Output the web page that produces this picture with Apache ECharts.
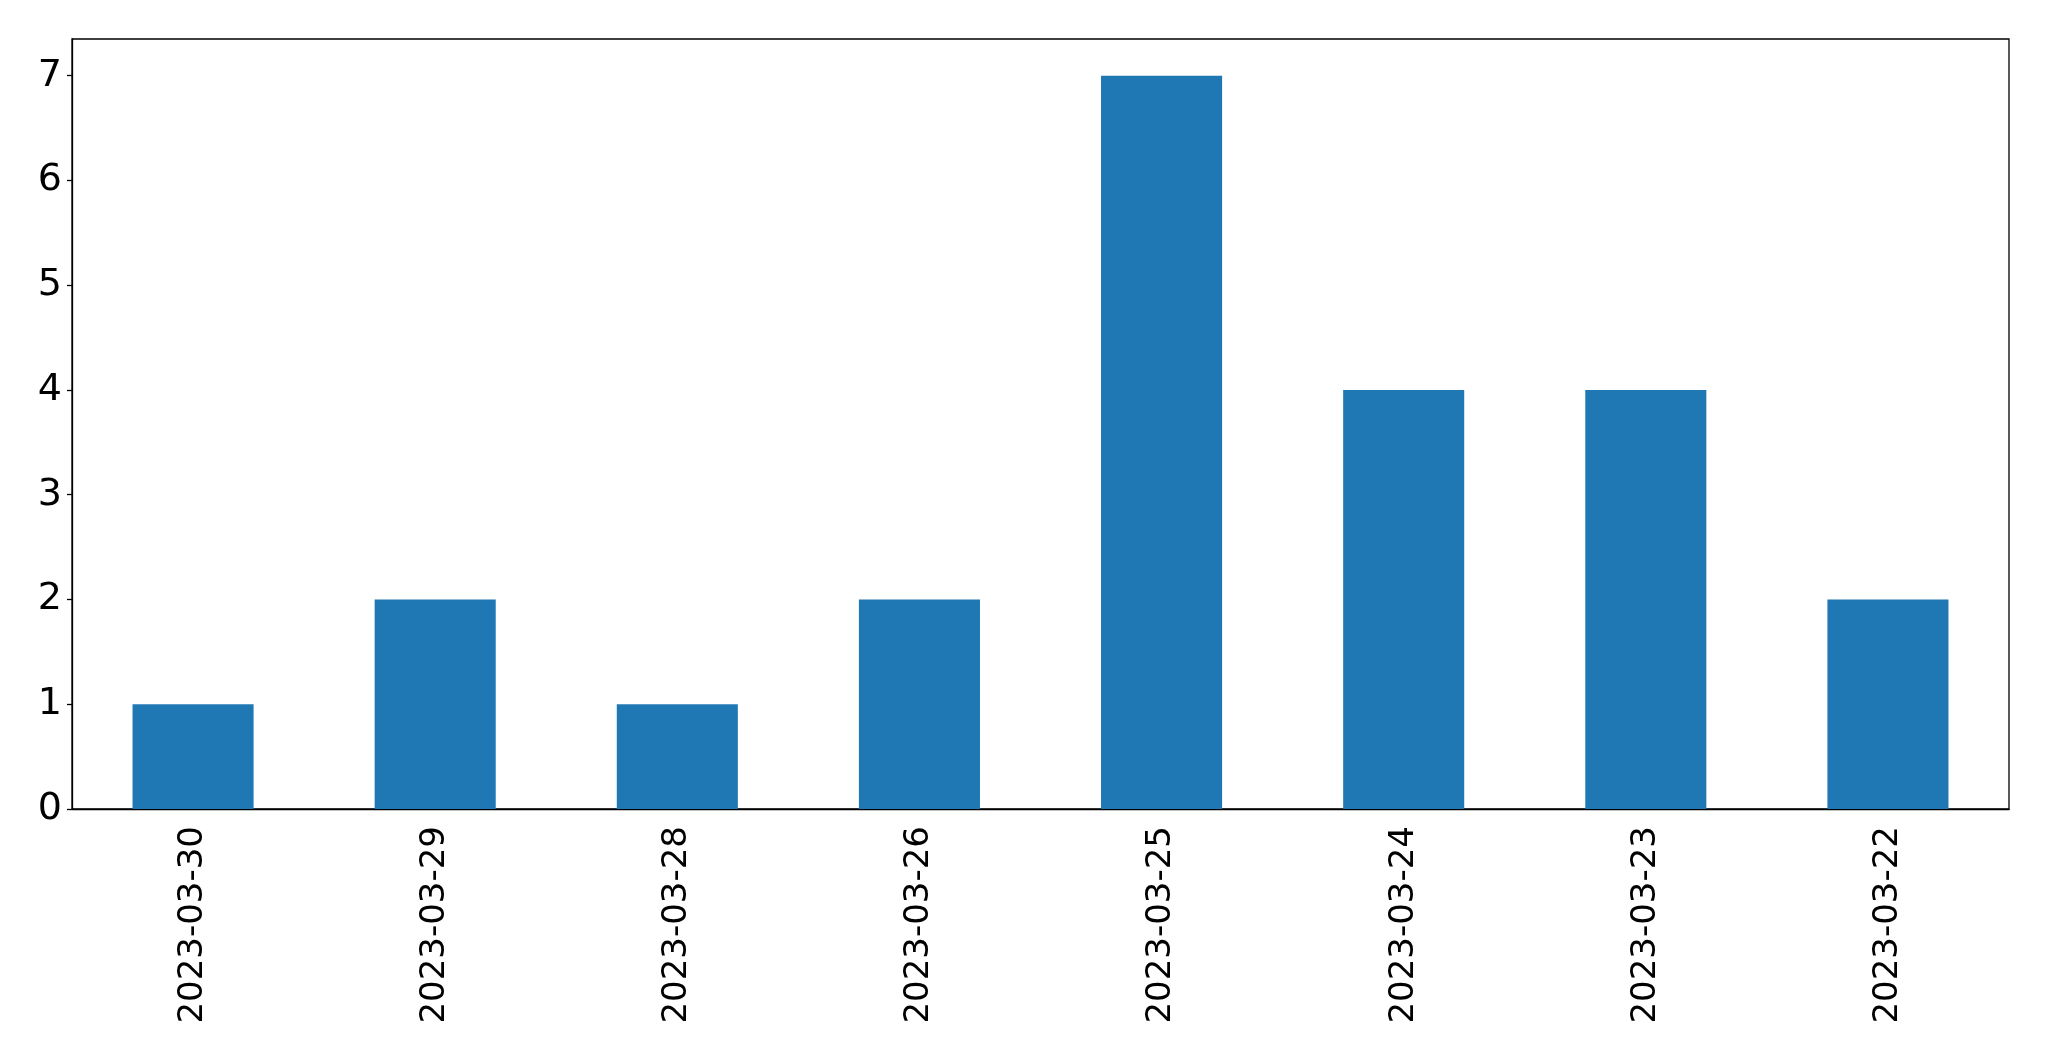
<!DOCTYPE html>
<html>
<head>
<meta charset="utf-8">
<script src="https://cdn.jsdelivr.net/npm/echarts@6/dist/echarts.min.js"></script>
<style>
html,body{margin:0;padding:0;background:#fff;}
#chart{width:2049px;height:1061px;}
</style>
</head>
<body>
<div id="chart"></div>
<script>
const categories = ['2023-03-30','2023-03-29','2023-03-28','2023-03-26','2023-03-25','2023-03-24','2023-03-23','2023-03-22'];
const values = [1, 2, 1, 2, 7, 4, 4, 2];
const yTicks = [0, 1, 2, 3, 4, 5, 6, 7];

const chart = echarts.init(document.getElementById('chart'), null, {renderer: 'canvas'});
chart.setOption({
  animation: false,
  backgroundColor: '#fff',
  grid: {left: 72, right: 40, top: 39, bottom: 252, show: true, borderColor: '#000', borderWidth: 1.3, backgroundColor: 'transparent'},
  xAxis: {
    type: 'category',
    data: categories,
    axisLine: {lineStyle: {color: '#000', width: 1.3}},
    axisTick: {alignWithLabel: true, length: 5, lineStyle: {color: '#000', width: 1.3}},
    axisLabel: {rotate: 90, color: '#000', fontSize: 34, fontFamily: 'DejaVu Sans', margin: 17}
  },
  yAxis: {
    type: 'value',
    min: 0,
    max: 7.35,
    interval: 1,
    splitLine: {show: false},
    axisLine: {show: true, lineStyle: {color: '#000', width: 1.3}},
    axisTick: {show: true, length: 5, lineStyle: {color: '#000', width: 1.3}, customValues: yTicks},
    axisLabel: {color: '#000', fontSize: 38, fontFamily: 'DejaVu Sans', margin: 10, padding: [6, 0, 0, 0], customValues: yTicks}
  },
  series: [{
    type: 'bar',
    data: values,
    barWidth: '50%',
    itemStyle: {color: '#1f77b4'}
  }]
});
</script>
</body>
</html>
